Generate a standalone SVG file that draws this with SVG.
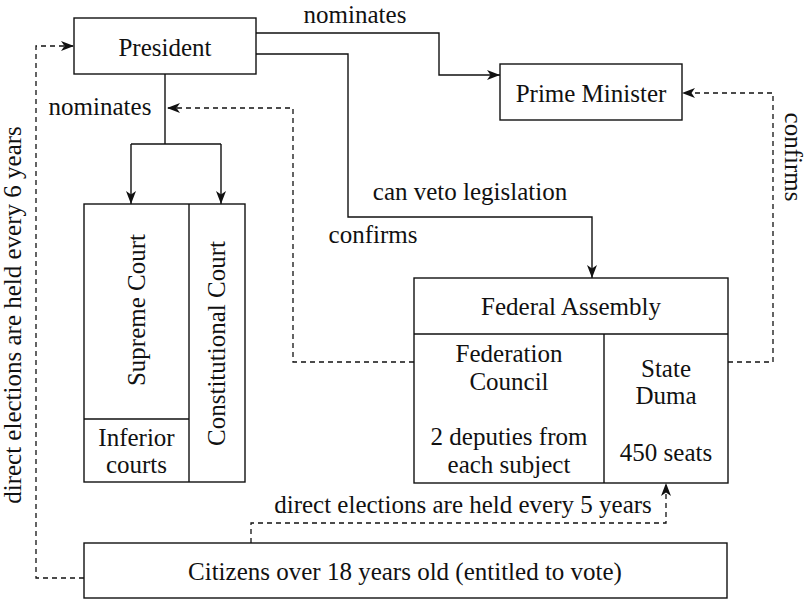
<svg xmlns="http://www.w3.org/2000/svg" width="807" height="600" viewBox="0 0 807 600">
<defs>
<marker id="arr" markerUnits="userSpaceOnUse" markerWidth="14" markerHeight="12" refX="13" refY="5" orient="auto">
<path d="M0,0 L13,5 L0,10 L3.5,5 Z" fill="#111"/>
</marker>
<style>
.box{fill:#fff;stroke:#111;stroke-width:1.4}
.div{fill:none;stroke:#111;stroke-width:1.4}
.t{font-family:"Liberation Serif","Times New Roman",serif;font-size:25px;fill:#111;text-anchor:middle}
.c{fill:none;stroke:#111;stroke-width:1.4}
.d{fill:none;stroke:#111;stroke-width:1.3;stroke-dasharray:5,4}
</style>
</defs>
<rect width="807" height="600" fill="#fff"/>
<g id="connectors">
<path class="c" d="M256,33 H439 V75 H500" marker-end="url(#arr)"/>
<path class="c" d="M256,54 H348 V217 H592 V278" marker-end="url(#arr)"/>
<path class="c" d="M165,74 V144"/>
<path class="c" d="M131,144 H221"/>
<path class="c" d="M131,144 V204" marker-end="url(#arr)"/>
<path class="c" d="M221,144 V204" marker-end="url(#arr)"/>
<path class="d" d="M414,362 H293 V108 H167" marker-end="url(#arr)"/>
<path class="d" d="M728,362 H773 V93 H682" marker-end="url(#arr)"/>
<path class="d" d="M84,578 H36 V46 H74" marker-end="url(#arr)"/>
<path class="d" d="M251,543 V523 H666 V483" marker-end="url(#arr)"/>
<text class="t" x="355" y="23">nominates</text>
<text class="t" x="100" y="115">nominates</text>
<text class="t" x="470" y="200">can veto legislation</text>
<text class="t" x="373" y="243">confirms</text>
<text class="t" transform="translate(785,157) rotate(90)">confirms</text>
<text class="t" transform="translate(21,315) rotate(-90)">direct elections are held every 6 years</text>
<text class="t" x="463" y="513">direct elections are held every 5 years</text>
</g>
<g id="president">
<rect class="box" x="74" y="18" width="182" height="56"/>
<text class="t" x="165" y="56">President</text>
</g>
<g id="prime-minister">
<rect class="box" x="500" y="64" width="182" height="56"/>
<text class="t" x="591" y="102">Prime Minister</text>
</g>
<g id="courts">
<rect class="box" x="84" y="204" width="161" height="278"/>
<path class="div" d="M189,204 V482 M84,419 H189"/>
<text class="t" transform="translate(144.5,310) rotate(-90)">Supreme Court</text>
<text class="t" transform="translate(224.5,343.5) rotate(-90)">Constitutional Court</text>
<text class="t" x="136.5" y="446">Inferior</text>
<text class="t" x="136.5" y="473">courts</text>
</g>
<g id="federal-assembly">
<rect class="box" x="414" y="278" width="314" height="205"/>
<path class="div" d="M414,334 H728 M604,334 V483"/>
<text class="t" x="571" y="315">Federal Assembly</text>
<text class="t" x="509" y="362">Federation</text>
<text class="t" x="509" y="390">Council</text>
<text class="t" x="509" y="445">2 deputies from</text>
<text class="t" x="509" y="473">each subject</text>
<text class="t" x="666" y="377">State</text>
<text class="t" x="666" y="404">Duma</text>
<text class="t" x="666" y="461">450 seats</text>
</g>
<g id="citizens">
<rect class="box" x="84" y="543" width="643" height="55"/>
<text class="t" x="405" y="580">Citizens over 18 years old (entitled to vote)</text>
</g>
</svg>
